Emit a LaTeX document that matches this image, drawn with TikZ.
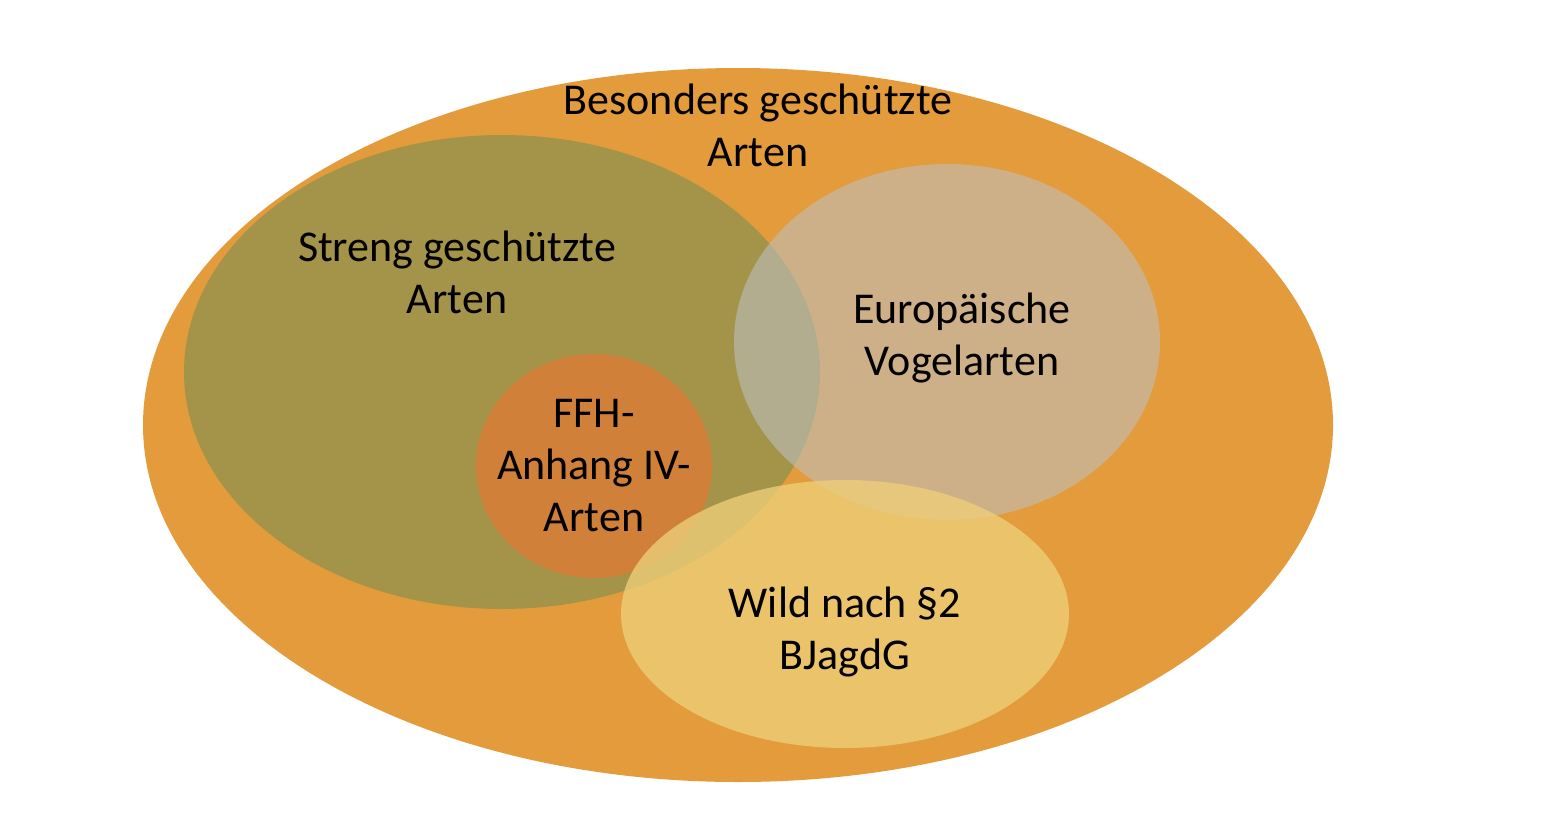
\documentclass[tikz,border=0pt]{standalone}
\usepackage{fontspec}
\setmainfont{Carlito}
\usetikzlibrary{positioning}
\definecolor{besonders}{RGB}{227,155,59}
\definecolor{streng}{RGB}{164,148,74}
\definecolor{ffh}{RGB}{208,128,56}
\definecolor{vogel}{RGB}{190,195,200}
\definecolor{wild}{RGB}{236,205,120}
\tikzset{lbl/.style={align=center,font=\fontsize{44}{52}\selectfont},
         set/.style={draw=none}}
\begin{document}
\begin{tikzpicture}[x=1pt,y=-1pt]
  \useasboundingbox (0,0) rectangle (1568,830);
  % outer set
  \fill[besonders] (738,425) ellipse [x radius=595,y radius=357];
  \node[lbl] (besonders) at (758,125) {Besonders geschützte\\Arten};
  % streng
  \fill[streng] (502,372) ellipse [x radius=318,y radius=237];
  \node[lbl] (streng) at (457,272) {Streng geschützte\\Arten};
  % ffh
  \fill[ffh] (594,466) ellipse [x radius=118,y radius=112];
  \node[lbl] (ffh) at (594,466) {FFH-\\Anhang IV-\\Arten};
  % vogel
  \fill[vogel,opacity=0.55] (947,342) ellipse [x radius=213,y radius=178];
  \node[lbl] (vogel) at (962,338) {Europäische\\Vogelarten};
  % wild
  \fill[wild,opacity=0.8] (845,614) ellipse [x radius=224,y radius=134];
  \node[lbl] (wild) at (845,632) {Wild nach §2\\BJagdG};
\end{tikzpicture}
\end{document}
